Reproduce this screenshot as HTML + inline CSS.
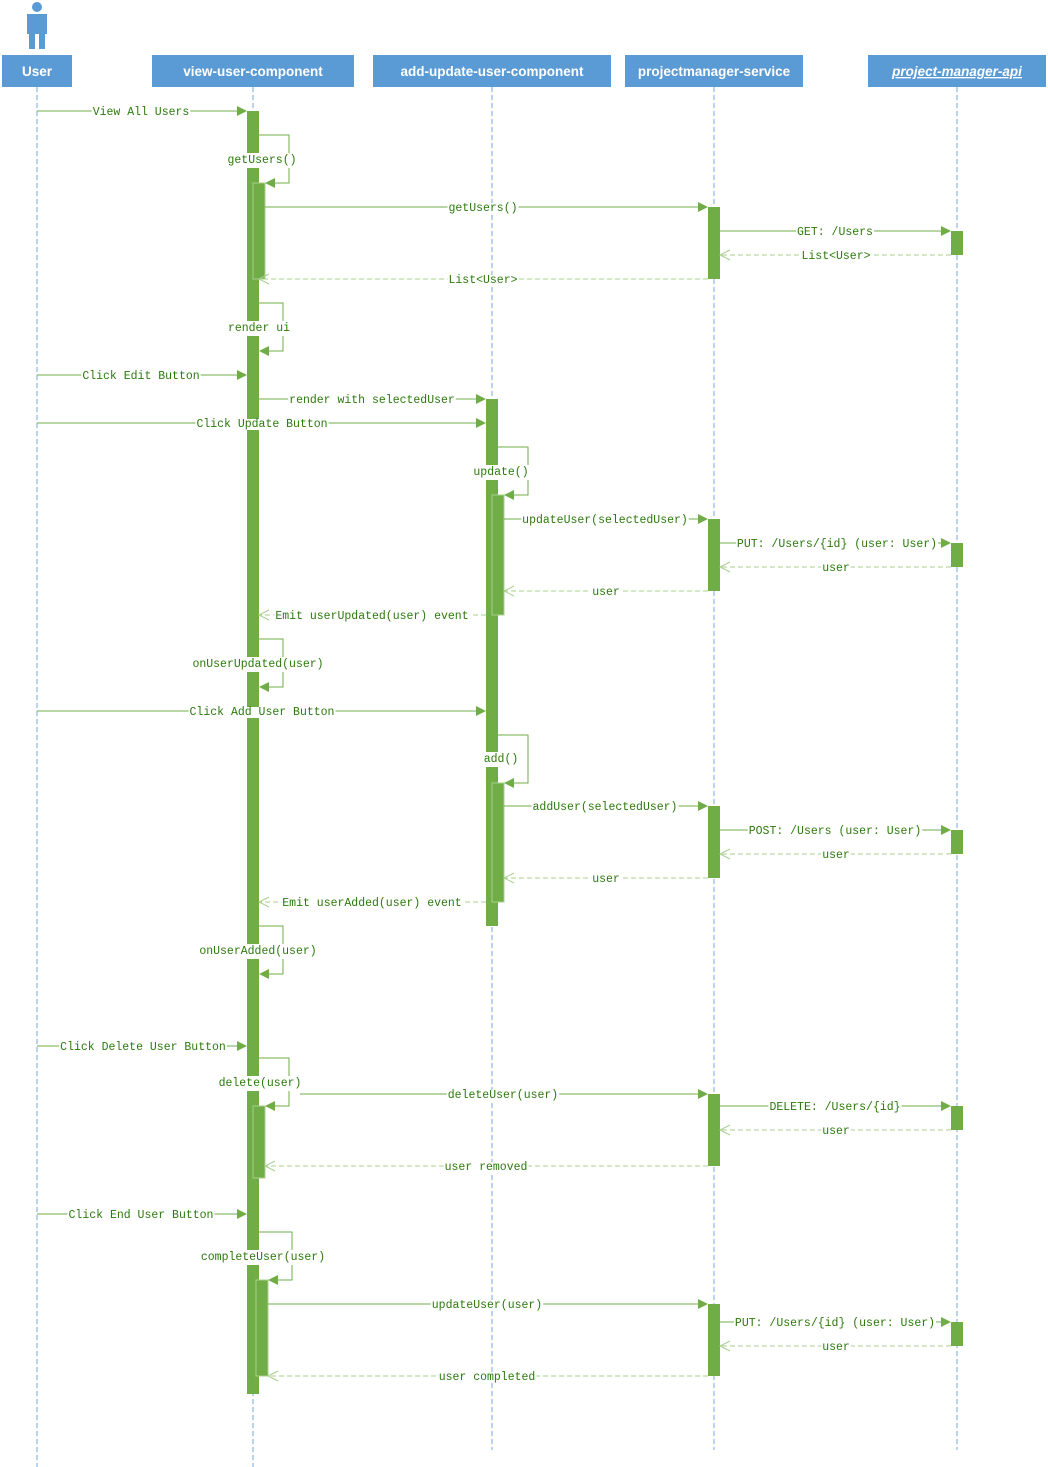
<!DOCTYPE html>
<html><head><meta charset="utf-8"><style>
html,body{margin:0;padding:0;background:#fff;width:1048px;height:1467px;overflow:hidden}
svg{display:block}
.h{font-family:"Liberation Sans",sans-serif;font-size:13.5px;font-weight:bold;fill:#fff;text-anchor:middle}
.t{font-family:"Liberation Mono",monospace;font-size:11.5px;fill:#2b7a0b;text-anchor:middle}
.ll{stroke:#7aa7dd;stroke-width:1;stroke-dasharray:5 3}
.m{stroke:#70ad47;stroke-width:1;fill:none}
.r{stroke:#a9d08e;stroke-width:1;stroke-dasharray:5 3;fill:none}
.a{fill:#70ad47}
.b{fill:#70ad47}
.ov{fill:none;stroke:#a9d08e;stroke-width:1}
</style></head><body>
<svg width="1048" height="1467" xmlns="http://www.w3.org/2000/svg">
<circle cx="37" cy="7" r="5" fill="#5b9bd5"/>
<path d="M27 14 H47 V34 H45 V49 H39 V34 H35 V49 H29 V34 H27 Z" fill="#5b9bd5"/>
<rect x="2" y="55" width="70" height="32" fill="#5b9bd5"/><text class="h" x="37" y="76">User</text>
<rect x="152" y="55" width="202" height="32" fill="#5b9bd5"/><text class="h" x="253" y="76">view-user-component</text>
<rect x="373" y="55" width="238" height="32" fill="#5b9bd5"/><text class="h" x="492" y="76">add-update-user-component</text>
<rect x="625" y="55" width="178" height="32" fill="#5b9bd5"/><text class="h" x="714" y="76">projectmanager-service</text>
<rect x="868" y="55" width="178" height="32" fill="#5b9bd5"/><text class="h" x="957" y="76" font-style="italic" text-decoration="underline">project-manager-api</text>
<line class="ll" x1="37" y1="87" x2="37" y2="1467"/>
<line class="ll" x1="253" y1="87" x2="253" y2="1467"/>
<line class="ll" x1="492" y1="87" x2="492" y2="1450"/>
<line class="ll" x1="714" y1="87" x2="714" y2="1450"/>
<line class="ll" x1="957" y1="87" x2="957" y2="1450"/>
<rect class="b" x="247" y="111" width="12" height="1283"/>
<rect class="b" x="253" y="183" width="12" height="96"/><rect class="ov" x="253" y="183" width="12" height="96"/>
<rect class="b" x="253" y="1106" width="12" height="72"/><rect class="ov" x="253" y="1106" width="12" height="72"/>
<rect class="b" x="256" y="1280" width="12" height="96"/><rect class="ov" x="256" y="1280" width="12" height="96"/>
<rect class="b" x="486" y="399" width="12" height="527"/>
<rect class="b" x="492" y="495" width="12" height="120"/><rect class="ov" x="492" y="495" width="12" height="120"/>
<rect class="b" x="492" y="783" width="12" height="119"/><rect class="ov" x="492" y="783" width="12" height="119"/>
<rect class="b" x="708" y="207" width="12" height="72"/>
<rect class="b" x="708" y="519" width="12" height="72"/>
<rect class="b" x="708" y="806" width="12" height="72"/>
<rect class="b" x="708" y="1094" width="12" height="72"/>
<rect class="b" x="708" y="1304" width="12" height="72"/>
<rect class="b" x="951" y="231" width="12" height="24"/>
<rect class="b" x="951" y="543" width="12" height="24"/>
<rect class="b" x="951" y="830" width="12" height="24"/>
<rect class="b" x="951" y="1106" width="12" height="24"/>
<rect class="b" x="951" y="1322" width="12" height="24"/>
<g id="msgs"></g>
</svg>
<script>
var s=document.querySelector('#msgs'),o='';
function tx(l,lx,y,big){o+='<text class="t'+(big?' big':'')+'" x="'+lx+'" y="'+(y+4)+'">'+l+'</text>';}
function sync(y,x1,x2,l,lx){var d=x2>x1?-1:1;o+='<line class="m" x1="'+x1+'" y1="'+y+'" x2="'+(x2+d*9)+'" y2="'+y+'"/><polygon class="a" points="'+x2+','+y+' '+(x2+d*10)+','+(y-5)+' '+(x2+d*10)+','+(y+5)+'"/>';tx(l,lx,y);}
function ret(y,x1,x2,l,lx){var d=x2>x1?-1:1;o+='<line class="r" x1="'+x1+'" y1="'+y+'" x2="'+x2+'" y2="'+y+'"/><polyline fill="none" stroke="#a9d08e" points="'+(x2+d*10)+','+(y-5)+' '+x2+','+y+' '+(x2+d*10)+','+(y+5)+'"/>';tx(l,lx,y);}
function self(x,y1,xr,y2,x2,l,lx,ly){o+='<polyline class="m" points="'+x+','+y1+' '+xr+','+y1+' '+xr+','+y2+' '+(x2+9)+','+y2+'"/><polygon class="a" points="'+x2+','+y2+' '+(x2+10)+','+(y2-5)+' '+(x2+10)+','+(y2+5)+'"/>';tx(l,lx,ly,1);}
sync(111,37,247,'View All Users',141);
self(259,135,289,183,265,'getUsers()',262,159);
sync(207,265,708,'getUsers()',483);
sync(231,720,951,'GET: /Users',835);
ret(255,951,720,'List&lt;User&gt;',836);
ret(279,708,259,'List&lt;User&gt;',483);
self(259,303,283,351,259,'render ui',259,327);
sync(375,37,247,'Click Edit Button',141);
sync(399,259,486,'render with selectedUser',372);
sync(423,37,486,'Click Update Button',262);
self(498,447,528,495,504,'update()',501,471);
sync(519,504,708,'updateUser(selectedUser)',605);
sync(543,720,951,'PUT: /Users/{id} (user: User)',837);
ret(567,951,720,'user',836);
ret(591,708,504,'user',606);
ret(615,486,259,'Emit userUpdated(user) event',372);
self(259,639,283,687,259,'onUserUpdated(user)',258,663);
sync(711,37,486,'Click Add User Button',262);
self(498,735,528,783,504,'add()',501,758);
sync(806,504,708,'addUser(selectedUser)',605);
sync(830,720,951,'POST: /Users (user: User)',835);
ret(854,951,720,'user',836);
ret(878,708,504,'user',606);
ret(902,486,259,'Emit userAdded(user) event',372);
self(259,926,283,974,259,'onUserAdded(user)',258,950);
sync(1046,37,247,'Click Delete User Button',143);
self(259,1058,289,1106,265,'delete(user)',260,1082);
sync(1094,300,708,'deleteUser(user)',503);
sync(1106,720,951,'DELETE: /Users/{id}',835);
ret(1130,951,720,'user',836);
ret(1166,708,265,'user removed',486);
sync(1214,37,247,'Click End User Button',141);
self(259,1232,292,1280,268,'completeUser(user)',263,1256);
sync(1304,268,708,'updateUser(user)',487);
sync(1322,720,951,'PUT: /Users/{id} (user: User)',835);
ret(1346,951,720,'user',836);
ret(1376,708,268,'user completed',487);
s.innerHTML=o;
var NS='http://www.w3.org/2000/svg';
s.querySelectorAll('text').forEach(function(t){var b=t.getBBox();var big=t.classList.contains('big');var r=document.createElementNS(NS,'rect');r.setAttribute('x',b.x-1);r.setAttribute('y',big?b.y-1:b.y+1);r.setAttribute('width',b.width+2);r.setAttribute('height',big?b.height+2:b.height-2);r.setAttribute('fill','#fff');s.insertBefore(r,t);});
</script>
</body></html>
